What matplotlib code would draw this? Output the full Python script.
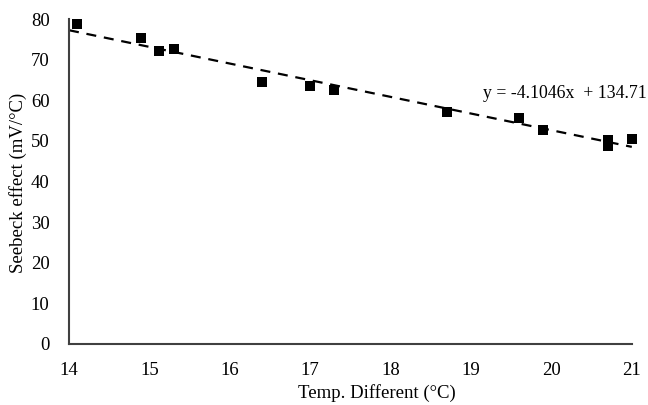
import numpy as np
import matplotlib
matplotlib.use("Agg")
import matplotlib.pyplot as plt

temp_diff = [14.1, 14.9, 15.12, 15.3, 16.4, 17.0, 17.3, 18.7, 19.6, 19.9, 20.7, 20.7, 21.0]
seebeck = [78.9, 75.4, 72.2, 72.6, 64.5, 63.5, 62.6, 57.1, 55.7, 52.6, 50.3, 48.8, 50.5]
slope = -4.1046
intercept = 134.71
x_ticks = [14, 15, 16, 17, 18, 19, 20, 21]
y_ticks = [0, 10, 20, 30, 40, 50, 60, 70, 80]

plt.rcParams["font.family"] = ["Liberation Serif", "DejaVu Serif"]

fig = plt.figure(figsize=(6.48, 4.05), dpi=100)
ax = fig.add_axes([0.1065, 0.151, 0.8685, 0.802])

ax.scatter(temp_diff, seebeck, marker="s", s=62, color="black", zorder=3,
           linewidths=0, clip_on=False)
xs = np.array([min(x_ticks), max(x_ticks)])
ax.plot(xs, slope * xs + intercept, linestyle=(0, (4.5, 3.5)), color="black",
        linewidth=1.6, zorder=2)

ax.text(19.15, 61.7, "y = -4.1046x  + 134.71", fontsize=12.8, va="center", ha="left")

ax.set_xlim(14, 21)
ax.set_ylim(0, 80)
ax.set_xticks(x_ticks)
ax.set_yticks(y_ticks)
ax.tick_params(length=0, labelsize=13.5)
ax.tick_params(axis="x", pad=13)
ax.tick_params(axis="y", pad=14)
for side in ["top", "right"]:
    ax.spines[side].set_visible(False)
for side in ["left", "bottom"]:
    ax.spines[side].set_color("#404040")
    ax.spines[side].set_linewidth(1.5)

ax.set_xlabel("Temp. Different (°C)", fontsize=13.5, va="center")
ax.xaxis.set_label_coords(0.547, -0.151)
ax.set_ylabel("Seebeck effect (mV/°C)", fontsize=13.5, va="center")
ax.yaxis.set_label_coords(-0.0906, 0.495)

fig.savefig("out.png", dpi=100)
